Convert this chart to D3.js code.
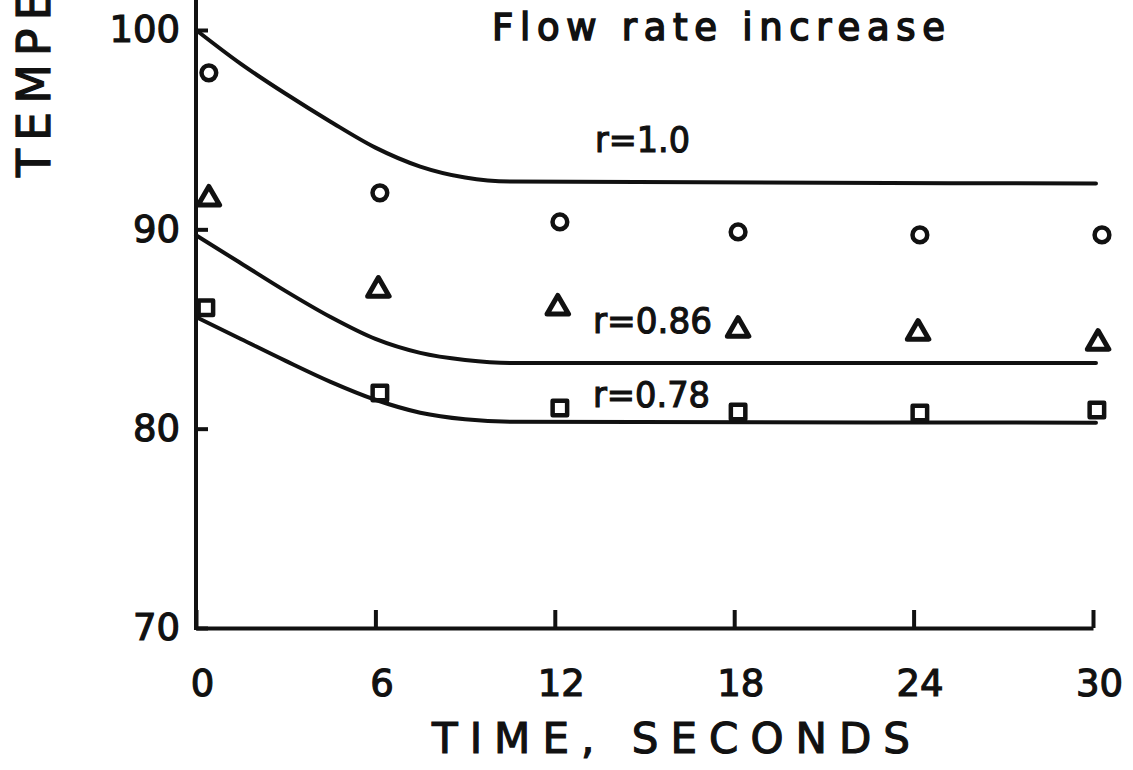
<!DOCTYPE html>
<html>
<head>
  <meta charset="utf-8">
  <title>Flow rate increase</title>
  <script src="https://d3js.org/d3.v7.min.js"></script>
  <style>
    body { margin: 0; background: #fff; }
    text { font-family: "DejaVu Sans", sans-serif; fill: #111; stroke: #111; stroke-width: 1.2px; }
  </style>
</head>
<body>
<script>
  // axis ticks
  const timeTicks = [0, 6, 12, 18, 24, 30];
  const tempTicks = [70, 80, 90, 100];

  // smooth model curves
  const curveTime = [0, 1.5, 3, 4.5, 6, 7.5, 9, 10.5, 30.1];
  const curveR100 = [100, 98.3, 96.8, 95.4, 94.1, 93.15, 92.6, 92.4, 92.3];
  const curveR086 = [89.7, 88.3, 86.9, 85.6, 84.5, 83.8, 83.45, 83.3, 83.3];
  const curveR078 = [85.6, 84.5, 83.4, 82.35, 81.45, 80.8, 80.47, 80.35, 80.3];

  // measured points
  const obsTimeR100 = [0.43, 6.15, 12.17, 18.13, 24.21, 30.3];
  const obsTempR100 = [97.85, 91.83, 90.37, 89.87, 89.72, 89.72];
  const obsTimeR086 = [0.43, 6.1, 12.1, 18.13, 24.15, 30.17];
  const obsTempR086 = [91.53, 86.96, 86.06, 84.95, 84.8, 84.3];
  const obsTimeR078 = [0.33, 6.15, 12.17, 18.13, 24.21, 30.13];
  const obsTempR078 = [86.06, 81.79, 81.04, 80.84, 80.79, 80.94];

  const labels = ['r=1.0', 'r=0.86', 'r=0.78'];

  const W = 1133, H = 770;
  const svg = d3.select('body').append('svg')
    .attr('width', W)
    .attr('height', H);

  const x = d3.scaleLinear().domain([0, 30]).range([196, 1093]);
  const y = d3.scaleLinear().domain([70, 100]).range([628, 30]);

  // title
  svg.append('text')
    .attr('x', 492).attr('y', 40)
    .attr('font-size', 37)
    .style('stroke-width', '1.6px')
    .attr('textLength', 453).attr('lengthAdjust', 'spacing')
    .text('Flow rate increase');

  // y axis line runs past 100 to the top edge
  svg.append('line')
    .attr('x1', 196).attr('x2', 196)
    .attr('y1', 0).attr('y2', 630)
    .attr('stroke', '#111').attr('stroke-width', 4);

  const yAxis = svg.append('g')
    .attr('transform', 'translate(196,0)')
    .call(d3.axisLeft(y).tickValues(tempTicks).tickSizeInner(-12).tickSizeOuter(0).tickPadding(16));
  yAxis.select('.domain').remove();
  yAxis.selectAll('line').attr('stroke', '#111').attr('stroke-width', 4);
  yAxis.selectAll('text').attr('font-size', 37).attr('fill', null).attr('font-family', null);

  const xAxis = svg.append('g')
    .attr('transform', 'translate(0,628)')
    .call(d3.axisBottom(x).tickValues(timeTicks).tickSizeInner(-18).tickSizeOuter(0).tickPadding(42));
  xAxis.select('.domain').attr('stroke', '#111').attr('stroke-width', 4);
  xAxis.selectAll('line').attr('stroke', '#111').attr('stroke-width', 4);
  xAxis.selectAll('text').attr('font-size', 37).attr('dx', 6).attr('fill', null);

  // axis titles
  svg.append('text')
    .attr('x', 432).attr('y', 753)
    .attr('font-size', 42)
    .attr('textLength', 478).attr('lengthAdjust', 'spacing')
    .text('TIME, SECONDS');

  svg.append('text')
    .attr('transform', 'translate(50,177) rotate(-90)')
    .attr('font-size', 46)
    .attr('letter-spacing', 8)
    .text('TEMPERATURE, °F');

  // curves
  const line = d3.line()
    .x(d => x(d[0]))
    .y(d => y(d[1]))
    .curve(d3.curveMonotoneX);

  [curveR100, curveR086, curveR078].forEach(vals => {
    svg.append('path')
      .datum(curveTime.map((t, i) => [t, vals[i]]))
      .attr('d', line)
      .attr('fill', 'none')
      .attr('stroke', '#111')
      .attr('stroke-width', 4)
      .attr('stroke-linecap', 'round');
  });

  // curve labels
  const labelPos = [[595, 152, 95], [593, 333, 119], [593, 407, 117]];
  svg.selectAll('.rlab')
    .data(labels)
    .enter().append('text')
    .attr('class', 'rlab')
    .attr('x', (d, i) => labelPos[i][0])
    .attr('y', (d, i) => labelPos[i][1])
    .attr('font-size', 36)
    .attr('textLength', (d, i) => labelPos[i][2])
    .attr('lengthAdjust', 'spacingAndGlyphs')
    .text(d => d);

  // markers
  const sets = [
    { t: obsTimeR100, v: obsTempR100, sym: d3.symbolCircle, size: 170, sw: 4.5 },
    { t: obsTimeR086, v: obsTempR086, sym: d3.symbolTriangle, size: 200, sw: 5 },
    { t: obsTimeR078, v: obsTempR078, sym: d3.symbolSquare, size: 210, sw: 4.5 },
  ];
  sets.forEach(s => {
    svg.selectAll(null)
      .data(s.t.map((t, i) => [t, s.v[i]]))
      .enter().append('path')
      .attr('transform', d => `translate(${x(d[0])},${y(d[1])})`)
      .attr('d', d3.symbol().type(s.sym).size(s.size))
      .attr('fill', 'none')
      .attr('stroke', '#111')
      .attr('stroke-width', s.sw)
      .attr('stroke-linejoin', 'round');
  });
</script>
</body>
</html>
